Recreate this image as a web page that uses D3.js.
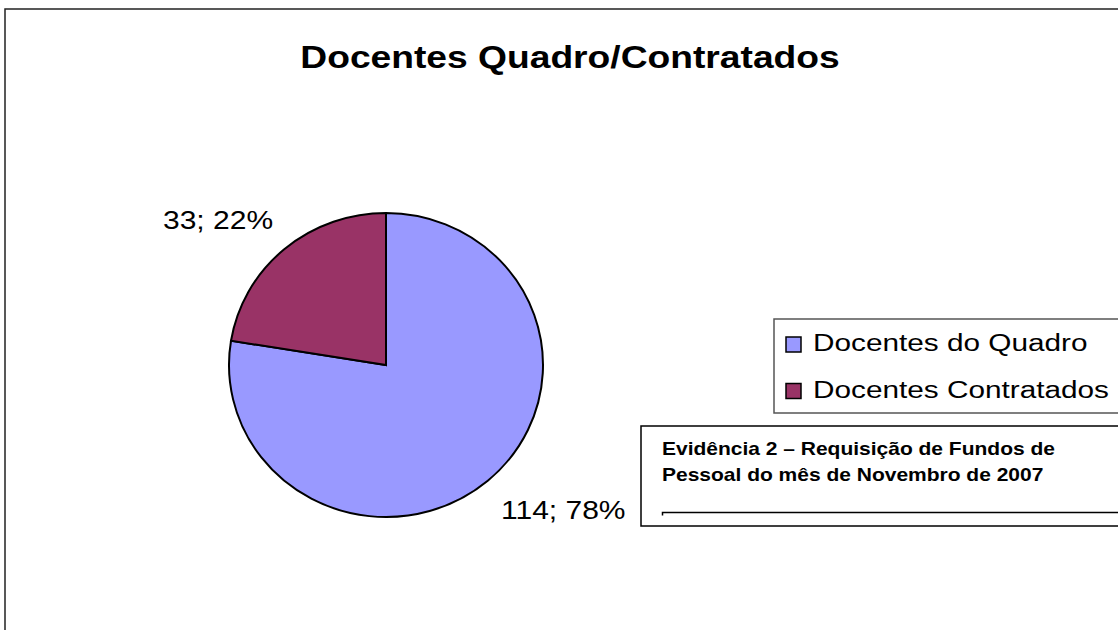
<!DOCTYPE html>
<html>
<head>
<meta charset="utf-8">
<script src="https://cdn.jsdelivr.net/npm/d3@7"></script>
<style>
  body { margin: 0; background: #fff; }
  svg { display: block; font-family: Arial, "Liberation Sans", sans-serif; }
</style>
</head>
<body>
<svg id="chart" width="1118" height="630"></svg>
<script>
var width = 1118;
var height = 630;
var stretch = 1.2; // the original's text is drawn a bit wide

// data
var categories = ["Docentes do Quadro", "Docentes Contratados"];
var values = [114, 33];
var colors = ["#9999FF", "#993366"];
var title = "Docentes Quadro/Contratados";
var noteLines = ["Evidência 2 – Requisição de Fundos de", "Pessoal do mês de Novembro de 2007"];

var svg = d3.select("#chart");

function place(x, y) {
    return "translate(" + x + "," + y + ") scale(" + stretch + ",1)";
}

// outer chart frame (runs off the right / bottom)
svg.append("rect")
    .attr("x", 5).attr("y", 9)
    .attr("width", 1200).attr("height", 700)
    .attr("fill", "none")
    .attr("stroke", "#222")
    .attr("stroke-width", 1.5);

svg.append("text")
    .attr("transform", place(570, 68))
    .attr("text-anchor", "middle")
    .attr("font-size", 31)
    .attr("font-weight", "bold")
    .text(title);

// pie
var cx = 386, cy = 365, rx = 157, ry = 152;
var total = d3.sum(values);

var pie = d3.pie().sort(null).value(function(d) { return d; });
var arc = d3.arc().innerRadius(0).outerRadius(rx);

var arcs = pie(values);

var pieG = svg.append("g")
    .attr("transform", "translate(" + cx + "," + cy + ") scale(1," + (ry / rx) + ")");

pieG.selectAll("path")
    .data(arcs)
    .enter()
    .append("path")
    .attr("d", arc)
    .attr("fill", function(d, i) { return colors[i]; })
    .attr("stroke", "#000")
    .attr("stroke-width", 2);

// data labels: value; percent
var labelPos = [[501, 519], [163, 229]];
svg.selectAll("text.lbl")
    .data(arcs)
    .enter()
    .append("text")
    .attr("class", "lbl")
    .attr("transform", function(d, i) { return place(labelPos[i][0], labelPos[i][1]); })
    .attr("font-size", 25)
    .text(function(d) {
        return d.value + "; " + Math.round(d.value / total * 100) + "%";
    });

// legend
var legend = svg.append("g");
legend.append("rect")
    .attr("x", 774).attr("y", 319)
    .attr("width", 400).attr("height", 94)
    .attr("fill", "#fff")
    .attr("stroke", "#555")
    .attr("stroke-width", 1.5);

var items = legend.selectAll("g.item")
    .data(categories)
    .enter()
    .append("g")
    .attr("class", "item")
    .attr("transform", function(d, i) { return "translate(786," + (337 + i * 46.5) + ")"; });

items.append("rect")
    .attr("width", 15).attr("height", 15)
    .attr("fill", function(d, i) { return colors[i]; })
    .attr("stroke", "#000")
    .attr("stroke-width", 1.5);

items.append("text")
    .attr("transform", place(27, 14))
    .attr("font-size", 24.8)
    .text(function(d) { return d; });

// source note box
var note = svg.append("g");
note.append("rect")
    .attr("x", 641).attr("y", 426)
    .attr("width", 600).attr("height", 100)
    .attr("fill", "#fff")
    .attr("stroke", "#000")
    .attr("stroke-width", 1.5);

note.selectAll("text")
    .data(noteLines)
    .enter()
    .append("text")
    .attr("transform", function(d, i) { return place(662, 455 + i * 26); })
    .attr("font-size", 17.5)
    .attr("font-weight", "bold")
    .text(function(d) { return d; });

note.append("path")
    .attr("d", "M662.5,515.5V512.5H1130")
    .attr("fill", "none")
    .attr("stroke", "#000")
    .attr("stroke-width", 1.5);
</script>
</body>
</html>
